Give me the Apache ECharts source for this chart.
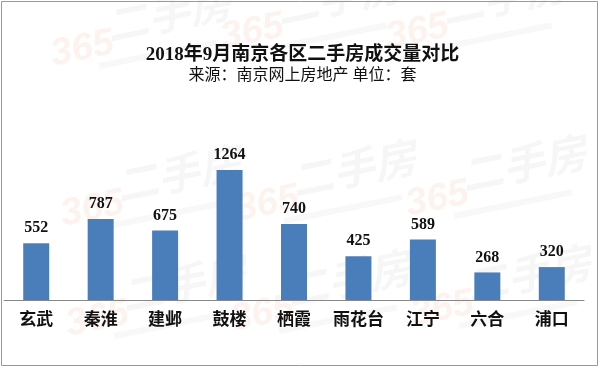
<!DOCTYPE html>
<html>
<head>
<meta charset="utf-8">
<script src="https://cdn.jsdelivr.net/npm/echarts@6/dist/echarts.min.js"></script>
<style>
html,body{margin:0;padding:0;background:#fff;}
#c{width:605px;height:368px;}
</style>
</head>
<body>
<div id="c"></div>
<script>
const categories = ['玄武','秦淮','建邺','鼓楼','栖霞','雨花台','江宁','六合','浦口'];
const values = [552, 787, 675, 1264, 740, 425, 589, 268, 320];
const titleText = '2018年9月南京各区二手房成交量对比';
const subtitleText = '来源：南京网上房地产 单位：套';

const FONT = '"Liberation Serif","Noto Sans CJK SC",serif';
const chart = echarts.init(document.getElementById('c'), null, {renderer:'canvas'});

function wm(x, y) {
  return {
    type: 'group', x: x, y: y, rotation: 0.2, silent: true, z: -1,
    children: [
      {type:'text', style:{text:'365', x:0, y:12, font:'italic bold 38px "Liberation Sans",sans-serif', fill:'rgba(240,160,120,0.13)'}},
      {type:'text', style:{text:'二手房', x:60, y:-8, font:'italic bold 42px "Noto Sans CJK SC",sans-serif', fill:'rgba(150,150,150,0.09)'}},
      {type:'rect', shape:{x:45, y:48, width:120, height:6}, style:{fill:'rgba(150,150,150,0.07)'}}
    ]
  };
}

chart.setOption({
  animation: false,
  backgroundColor: '#fff',
  title: [
    {text: titleText, left: 'center', top: 41, textStyle:{fontFamily: FONT, fontSize: 19, fontWeight: 'bold', color:'#111'}},
    {text: subtitleText, left: 'center', top: 63, textStyle:{fontFamily: FONT, fontSize: 16, fontWeight: 'normal', color:'#111'}}
  ],
  graphic: [
    wm(45, 25), wm(215, 8), wm(380, 8),
    wm(55, 185), wm(230, 180), wm(400, 175),
    wm(60, 295), wm(225, 290), wm(405, 285),
    {type:'rect', shape:{x:1.5, y:1.5, width:596, height:364}, style:{fill:'none', stroke:'#999', lineWidth:1}, z:10, silent:true}
  ],
  grid: {left: 4, right: 21, top: 156, bottom: 68, containLabel: false},
  xAxis: {
    type: 'category', data: categories,
    axisLine: {lineStyle:{color:'#888', width:1}},
    axisTick: {show:false},
    axisLabel: {interval: 0, fontFamily: FONT, fontSize: 17, fontWeight:'bold', color:'#111', margin: 12}
  },
  yAxis: {type:'value', min:0, max:1400, show:false, splitLine:{show:false}},
  series: [{
    type: 'bar', data: values, barWidth: 26,
    itemStyle: {color: '#4a7ebb'},
    label: {show: true, position: 'top', distance: 7, fontFamily: FONT, fontSize: 16, fontWeight:'bold', color:'#111'}
  }]
});
</script>
</body>
</html>
